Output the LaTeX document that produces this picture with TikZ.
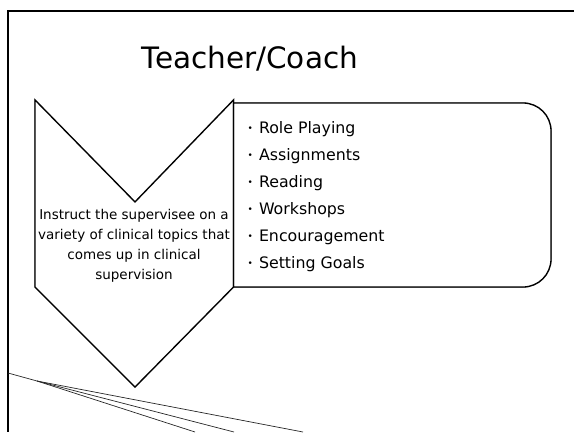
\documentclass[tikz,border=0pt]{standalone}
\usepackage{fontspec}
\setmainfont{DejaVu Sans}
\newcommand{\bul}{{\fontsize{9}{9}\selectfont\raisebox{1.5pt}{•}}\hspace{6pt}}
\begin{document}
\begin{tikzpicture}[x=1pt,y=-1pt]
\useasboundingbox (0,0) rectangle (574,432);
\tikzset{
  frameline/.style={line width=1.5pt, black},
  shapeline/.style={line width=1.3pt, black, line join=miter},
  shadowline/.style={line width=1.5pt, black!45, line join=miter},
  thinline/.style={line width=0.7pt, black!85},
  titletext/.style={font=\fontsize{29.5}{34}\selectfont, inner sep=0pt},
  desctext/.style={font=\fontsize{13.5}{20}\selectfont, align=center, inner sep=0pt},
  listtext/.style={font=\fontsize{15.8}{27}\selectfont, align=left, inner sep=0pt}
}
% slide frame
\coordinate (fTL) at (8,11);
\coordinate (fTR) at (574,11);
\coordinate (fBL) at (8,432);
\draw[frameline] (fTR) -- (fTL) -- (fBL);

% chevron
\coordinate (cTL) at (35,100);
\coordinate (cN) at (135,202);
\coordinate (cTR) at (233.5,100);
\coordinate (cBR) at (233.5,287);
\coordinate (cB) at (135,387);
\coordinate (cBL) at (35,287);
% rounded box
\coordinate (rTL) at (233.5,103);
\coordinate (rTR) at (551,103);
\coordinate (rBR) at (551,287);
\coordinate (rBL) at (233.5,287);

\begin{scope}[shift={(0.9,0.9)}]
  \draw[shadowline] (cTL) -- (cN) -- (cTR) -- (cBR) -- (cB) -- (cBL) -- cycle;
  \draw[shadowline] (rTL) [rounded corners=28pt] -- (rTR) -- (rBR) [sharp corners] -- (rBL);
\end{scope}
\fill[white] (cTL) -- (cN) -- (cTR) -- (cBR) -- (cB) -- (cBL) -- cycle;
\fill[white] (rTL) [rounded corners=28pt] -- (rTR) -- (rBR) [sharp corners] -- (rBL) -- cycle;
\draw[shapeline] (cTL) -- (cN) -- (cTR) -- (cBR) -- (cB) -- (cBL) -- cycle;
\draw[shapeline] (rTL) [rounded corners=28pt] -- (rTR) -- (rBR) [sharp corners] -- (rBL) -- cycle;

% title
\node[titletext, anchor=base] (title) at (250,68.5) {Teacher/Coach};

% chevron text
\node[desctext, anchor=center] (desc) at (134,245.5)
  {Instruct the supervisee on a\\variety of clinical topics that\\comes up in clinical\\supervision};

% bullet list
\node[listtext, anchor=north west] (list) at (247.5,121)
  {\bul Role Playing\\\bul Assignments\\\bul Reading\\\bul Workshops\\\bul Encouragement\\\bul Setting Goals};

% lines at bottom left
\coordinate (lA) at (8,373);
\coordinate (lF) at (37,381);
\coordinate (l1) at (195,432);
\coordinate (l2) at (234,432);
\coordinate (l3) at (303,432);
\draw[thinline] (lA) -- (lF);
\draw[thinline] (lF) -- (l1);
\draw[thinline] (lF) -- (l2);
\draw[thinline] (lF) -- (l3);
\end{tikzpicture}
\end{document}
